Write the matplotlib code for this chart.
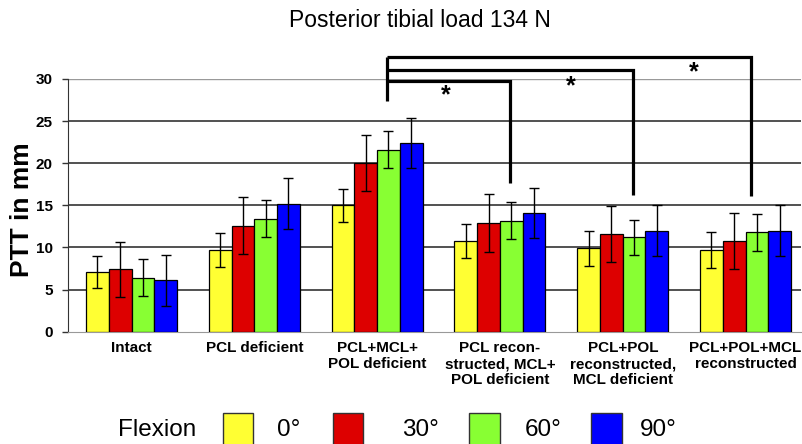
import numpy as np
import matplotlib
matplotlib.use('Agg')
import matplotlib.pyplot as plt
from matplotlib.patches import Rectangle

plt.rcParams['font.family'] = ['Liberation Sans', 'DejaVu Sans']

# Conditions and flexion angles
conditions = ['Intact', 'PCL deficient', 'PCL+MCL+\nPOL deficient',
              'PCL recon-\nstructed, MCL+\nPOL deficient',
              'PCL+POL\nreconstructed,\nMCL deficient',
              'PCL+POL+MCL\nreconstructed']
flexion = ['0°', '30°', '60°', '90°']
colors = ['#ffff33', '#dd0000', '#88ff33', '#0000ff']

# Mean PTT (mm) per flexion angle, one value per condition
ptt_0 = [7.1, 9.7, 15.0, 10.8, 9.9, 9.7]
ptt_30 = [7.4, 12.6, 20.0, 12.9, 11.6, 10.8]
ptt_60 = [6.4, 13.4, 21.6, 13.2, 11.2, 11.8]
ptt_90 = [6.1, 15.2, 22.4, 14.1, 12.0, 12.0]

# Standard deviations
sd_0 = [1.9, 2.0, 2.0, 2.0, 2.1, 2.1]
sd_30 = [3.3, 3.4, 3.3, 3.4, 3.3, 3.3]
sd_60 = [2.2, 2.2, 2.2, 2.2, 2.1, 2.2]
sd_90 = [3.0, 3.0, 3.0, 3.0, 3.0, 3.0]

# Significance brackets (from PCL+MCL+POL deficient to the reconstructions)
sig_from = 2
sig_to = [3, 4, 5]
sig_top = [29.8, 31.1, 32.6]
sig_bottom = [17.7, 16.2, 16.1]
sig_from_bottom = 27.4
star_x = [2.56, 3.58, 4.58]
star_y = [28.1, 29.1, 30.8]

means = [ptt_0, ptt_30, ptt_60, ptt_90]
sds = [sd_0, sd_30, sd_60, sd_90]

fig = plt.figure(figsize=(8.02, 4.44), dpi=100)
ax = fig.add_axes([0.0848, 0.2529, 0.9142, 0.5692])

x = np.arange(len(conditions))
w = 0.185
for i in range(len(flexion)):
    pos = x + (i - 1.5) * w
    ax.bar(pos, means[i], w, color=colors[i], edgecolor='black', linewidth=0.9,
           zorder=3)
    ax.errorbar(pos, means[i], yerr=sds[i], fmt='none', ecolor='black',
                elinewidth=1.0, capsize=3.6, capthick=1.0, zorder=4)

ax.set_ylim(0, 30)
ax.set_xlim(-0.517, 5.453)
ax.set_yticks([0, 5, 10, 15, 20, 25, 30])
for yv in [5, 10, 15, 20, 25]:
    ax.axhline(yv, color='#222222', linewidth=1.1, zorder=1)
ax.axhline(30, color='#999999', linewidth=1.0, zorder=1)

for s in ['top', 'right']:
    ax.spines[s].set_visible(False)
ax.spines['left'].set_color('#333333')
ax.spines['bottom'].set_color('#999999')
ax.tick_params(axis='y', length=4, width=1.0, color='#333333', pad=7,
               labelsize=11)
for lab in ax.get_yticklabels():
    lab.set_fontweight('bold')
ax.set_xticks(x)
ax.set_xticklabels(conditions, fontsize=11, fontweight='bold',
                   linespacing=1.15)
ax.tick_params(axis='x', length=0, pad=7)

W, H = 802.0, 444.0
fig.text(22 / W, 1 - 210 / H, 'PTT in mm', fontsize=19, fontweight='bold',
         rotation=90, ha='center', va='center')

fig.text(0.524, 0.953, 'Posterior tibial load 134 N', fontsize=16.5,
         ha='center', va='center')

# Significance brackets
off = 0.083
x0 = sig_from + off
ax.plot([x0, x0], [max(sig_top), sig_from_bottom], color='black', lw=2.3,
        clip_on=False, zorder=5, solid_capstyle='butt')
for t, top, bot in zip(sig_to, sig_top, sig_bottom):
    x1 = t + off - (0.04 if t == 5 else 0)
    ax.plot([x0, x1, x1], [top, top, bot], color='black', lw=2.3,
            clip_on=False, zorder=5, solid_joinstyle='miter',
            solid_capstyle='butt')
for sx, sy in zip(star_x, star_y):
    ax.text(sx, sy, '*', fontsize=18, fontweight='bold', ha='center',
            va='center', clip_on=False)

# Legend drawn along the bottom
fig.text(118 / W, 1 - 430 / H, 'Flexion', fontsize=17.5, ha='left',
         va='center')
box_x = [222.7, 332.7, 469.0, 591.0]
text_x = [277.0, 401.7, 525.0, 640.0]
for bx, tx, c, lab in zip(box_x, text_x, colors, flexion):
    fig.patches.append(Rectangle((bx / W, 1 - 446 / H), 30.5 / W, 33 / H,
                                 transform=fig.transFigure, facecolor=c,
                                 edgecolor='#333333', linewidth=1.0))
    fig.text(tx / W, 1 - 430 / H, lab, fontsize=17.5, ha='left', va='center')

fig.savefig('out.png', dpi=100)
